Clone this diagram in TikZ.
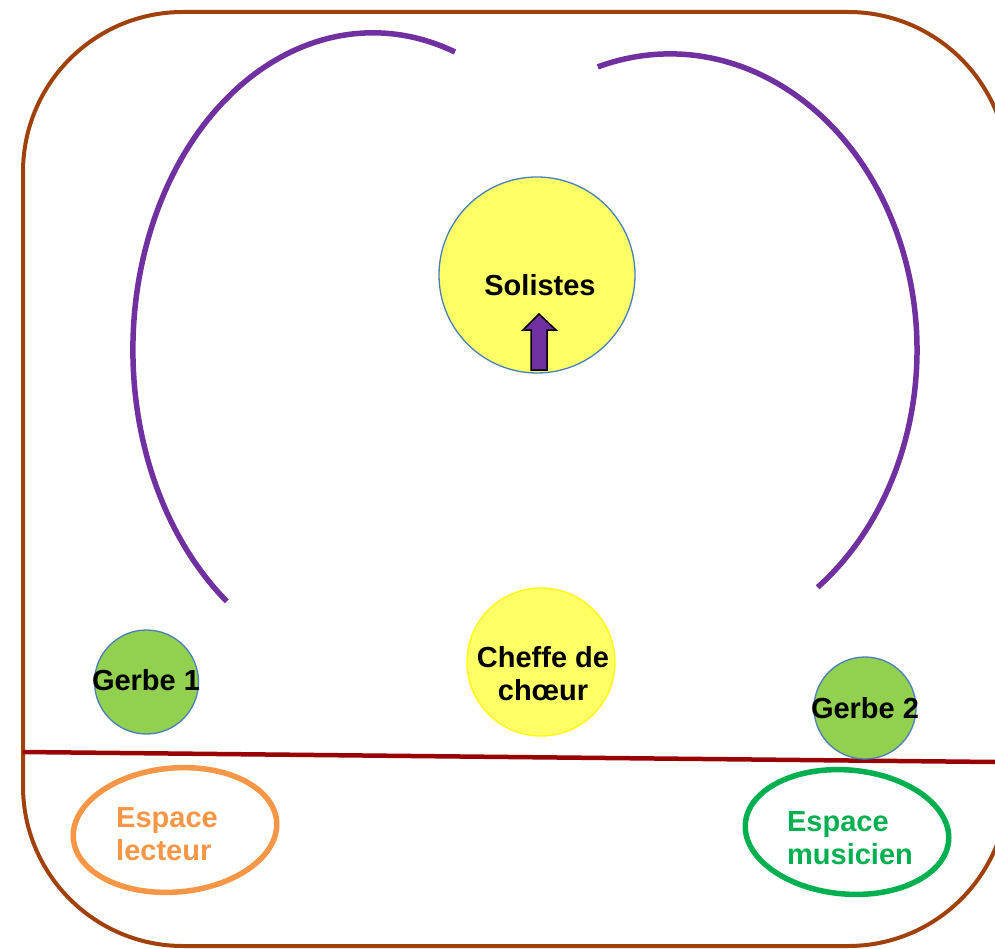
\documentclass[tikz,border=0pt]{standalone}
\usepackage{fontspec}
\setmainfont{Liberation Sans}
\usetikzlibrary{shapes.geometric}
\definecolor{framebrown}{HTML}{A0400A}
\definecolor{linered}{HTML}{990000}
\definecolor{arcpurple}{HTML}{7030A0}
\definecolor{lightyellow}{HTML}{FFFF66}
\definecolor{pureyellow}{HTML}{FFFF00}
\definecolor{edgeblue}{HTML}{4A7EBB}
\definecolor{gerbegreen}{HTML}{92D050}
\definecolor{readerorange}{HTML}{F79646}
\definecolor{musicgreen}{HTML}{00B050}
\tikzset{
  lbl/.style={font=\fontsize{29}{33}\selectfont\bfseries, inner sep=0pt, align=center},
  disc/.style={circle, inner sep=0pt, line width=1.3pt},
  zone/.style={ellipse, inner sep=0pt, line width=5.5pt, minimum width=204pt, minimum height=124pt},
  arcline/.style={arcpurple, line width=5.5pt},
}
\begin{document}
\begin{tikzpicture}[x=1pt,y=1pt]
\useasboundingbox (0,0) rectangle (995,-949);
\fill[white] (0,0) rectangle (995,-949);
% outer frame (clipped at right edge)
\begin{scope}
\clip (0,0) rectangle (995,-949);
\draw[framebrown, line width=4pt, rounded corners=160pt] (23,-12) rectangle (1008,-946);
\end{scope}
% separating line
\coordinate (lineL) at (23,-752);
\coordinate (lineR) at (995,-762);
\draw[linered, line width=4.5pt] (lineL) -- (lineR);
% purple arcs
\draw[arcline] (455,-52) arc[start angle=70, end angle=232.5, x radius=240, y radius=317];
\draw[arcline] (597.8,-66.9) arc[start angle=107, end angle=-53.3, x radius=247, y radius=296];
% Solistes
\node[disc, draw=edgeblue, fill=lightyellow, minimum size=196pt] (sol) at (537,-275) {};
\node[lbl] (soltxt) at (540,-285) {Solistes};
\draw[black, line width=1.5pt, fill=arcpurple]
  (539,-314) -- (556,-330) -- (547,-330) -- (547,-370) -- (531,-370) -- (531,-330) -- (523,-330) -- cycle;
% Cheffe de choeur
\node[disc, draw=pureyellow, fill=lightyellow, minimum size=148pt] (chef) at (541,-662) {};
\node[lbl] (cheftxt) at (543,-674) {Cheffe de\\ch\oe ur};
% Gerbes
\node[disc, draw=edgeblue, fill=gerbegreen, minimum size=104pt] (g1) at (146.5,-682) {};
\node[lbl] (g1txt) at (146,-680) {Gerbe 1};
\node[disc, draw=edgeblue, fill=gerbegreen, minimum size=102pt] (g2) at (865,-708) {};
\node[lbl] (g2txt) at (865,-708) {Gerbe 2};
% Espaces
\node[zone, draw=readerorange, rotate=5] (lect) at (175,-830) {};
\node[lbl, align=left, text=readerorange] (lecttxt) at (167,-834) {Espace\\lecteur};
\node[zone, draw=musicgreen, rotate=-5] (mus) at (847,-832) {};
\node[lbl, align=left, text=musicgreen] (mustxt) at (850,-838) {Espace\\musicien};
\end{tikzpicture}
\end{document}
